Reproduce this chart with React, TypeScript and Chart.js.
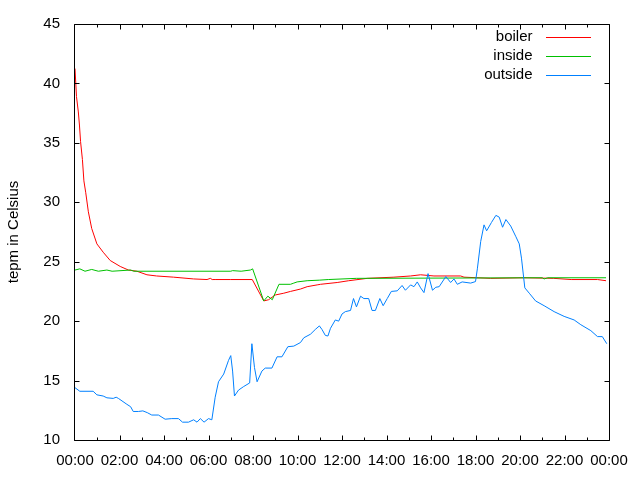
import { useEffect, useRef } from "react";
import { Chart, registerables } from "chart.js";

Chart.register(...registerables);

const seriesLabels = ["boiler", "inside", "outside"];
const seriesColors = ["#ff0000", "#00c000", "#0080ff"];

const boilerTimes = ["00:00","00:04","00:09","00:12","00:15","00:20","00:24","00:29","00:36","00:45","00:59","01:16","01:35","02:02","02:24","02:47","03:14","03:40","04:26","05:20","05:56","06:05","06:10","06:20","07:00","07:58","08:29","08:42","09:00","09:23","09:41","10:08","10:26","10:53","11:02","11:47","12:18","13:08","14:20","15:05","15:32","16:08","17:20","17:29","18:41","20:10","21:31","22:18","23:29","23:52"];
const boilerTemps = [41.25,38.9,37.6,36.5,35.1,33.6,31.8,30.8,29.2,27.8,26.5,25.8,25.1,24.6,24.3,24.2,23.9,23.8,23.7,23.55,23.5,23.6,23.5,23.5,23.5,23.5,21.7,21.8,22.2,22.35,22.5,22.7,22.9,23.05,23.1,23.25,23.4,23.6,23.7,23.8,23.9,23.8,23.8,23.7,23.6,23.65,23.6,23.5,23.5,23.4];

const insideTimes = ["00:00","00:13","00:27","00:45","01:03","01:26","01:40","02:30","02:39","07:00","07:05","07:28","07:53","07:59","08:29","08:40","08:52","09:10","09:41","09:50","09:59","10:26","11:00","11:23","12:39","21:00","21:05","21:15","23:52"];
const insideTemps = [24.3,24.4,24.2,24.35,24.2,24.3,24.2,24.3,24.2,24.2,24.25,24.2,24.3,24.4,21.7,22.1,21.8,23.1,23.1,23.2,23.3,23.4,23.45,23.5,23.6,23.65,23.55,23.65,23.65];

const outsideTimes = ["00:00","00:13","00:49","00:59","01:16","01:26","01:43","01:51","01:57","02:20","02:30","02:37","02:51","03:03","03:15","03:27","03:45","04:03","04:21","04:39","04:50","05:06","05:20","05:29","05:38","05:48","06:00","06:09","06:18","06:27","06:41","06:54","07:00","07:05","07:10","07:21","07:35","07:51","07:57","08:04","08:11","08:24","08:33","08:51","09:05","09:18","09:34","09:50","10:08","10:17","10:35","10:48","10:59","11:06","11:15","11:22","11:29","11:42","11:51","12:00","12:09","12:23","12:31","12:39","12:50","12:59","13:12","13:21","13:30","13:42","13:51","14:02","14:13","14:29","14:42","14:51","15:05","15:14","15:23","15:32","15:41","15:52","16:04","16:13","16:22","16:40","16:53","17:02","17:11","17:24","17:47","18:00","18:05","18:14","18:23","18:30","18:43","18:55","19:04","19:13","19:22","19:35","19:49","19:58","20:04","20:13","20:25","20:42","21:05","21:32","21:59","22:26","22:44","23:11","23:29","23:42","23:54"];
const outsideTemps = [14.4,14.1,14.1,13.8,13.7,13.55,13.5,13.6,13.5,13.0,12.8,12.4,12.4,12.45,12.3,12.1,12.1,11.75,11.8,11.8,11.5,11.5,11.7,11.5,11.8,11.5,11.8,11.7,13.6,14.9,15.55,16.7,17.1,15.8,13.7,14.2,14.5,14.8,18.1,16.1,14.9,15.8,16.05,16.05,17.0,17.0,17.85,17.9,18.2,18.6,18.9,19.3,19.6,19.3,18.8,18.75,19.4,20.1,20.0,20.6,20.8,20.9,21.9,21.2,22.1,21.9,21.9,20.9,20.9,21.9,21.3,21.9,22.5,22.55,23.0,22.6,23.05,22.9,23.3,22.8,22.4,24.0,22.6,22.85,22.9,23.75,23.25,23.55,23.1,23.3,23.2,23.33,24.4,26.7,28.1,27.6,28.3,28.9,28.75,27.9,28.55,28.0,27.1,26.5,25.3,22.8,22.35,21.7,21.3,20.8,20.4,20.1,19.7,19.2,18.7,18.7,18.1];

const xTickHours = [0,2,4,6,8,10,12,14,16,18,20,22,24];
const xTickLabels = ["00:00","02:00","04:00","06:00","08:00","10:00","12:00","14:00","16:00","18:00","20:00","22:00","00:00"];
const yTicks = [10,15,20,25,30,35,40,45];
const yTitle = "tepm in Celsius";

const FONT = "'Liberation Sans', Arial, sans-serif";

function toHours(t: string): number {
  const [h, m] = t.split(":").map(Number);
  return h + m / 60;
}

function pts(times: string[], vals: number[]) {
  return times.map((t, i) => ({ x: toHours(t), y: vals[i] }));
}

const framePlugin = {
  id: "gnuframe",
  afterDraw(chart: any) {
    const { ctx, chartArea: a, scales } = chart;
    ctx.save();
    ctx.strokeStyle = "#000";
    ctx.lineWidth = 1;
    const L = Math.round(a.left) - 0.5;
    const R = Math.round(a.right) + 0.5;
    const T = Math.round(a.top) + 0.5;
    const B = Math.round(a.bottom) + 0.5;
    ctx.beginPath();
    ctx.rect(L, T, R - L, B - T);
    for (let h = 0; h <= 24; h++) {
      const px = Math.round(scales.x.getPixelForValue(h)) + (h === 0 ? -0.5 : 0.5);
      const len = xTickHours.includes(h) ? 5 : 3;
      ctx.moveTo(px, B);
      ctx.lineTo(px, B - len);
      ctx.moveTo(px, T);
      ctx.lineTo(px, T + len);
    }
    for (const v of yTicks) {
      const py = Math.round(scales.y.getPixelForValue(v)) + 0.5;
      ctx.moveTo(L, py);
      ctx.lineTo(L + 5, py);
      ctx.moveTo(R, py);
      ctx.lineTo(R - 5, py);
    }
    ctx.stroke();

    ctx.font = `15px ${FONT}`;
    ctx.textAlign = "right";
    ctx.textBaseline = "middle";
    for (let i = 0; i < seriesLabels.length; i++) {
      const y = Math.round(a.top) + 13 + i * 19;
      ctx.fillStyle = "#000000";
      ctx.fillText(seriesLabels[i], R - 77, y);
      ctx.fillStyle = seriesColors[i];
      ctx.fillRect(Math.round(R - 64), y, 45, 1);
    }
    ctx.restore();
  },
};

export default function App() {
  const ref = useRef<HTMLCanvasElement | null>(null);

  useEffect(() => {
    document.body.style.margin = "0";
    const canvas = ref.current;
    if (!canvas) return;
    const seriesData = [
      pts(boilerTimes, boilerTemps),
      pts(insideTimes, insideTemps),
      pts(outsideTimes, outsideTemps),
    ];
    const chart = new Chart(canvas, {
      type: "line",
      data: {
        datasets: seriesLabels.map((label, i) => ({
          label,
          data: seriesData[i],
          borderColor: seriesColors[i],
          backgroundColor: seriesColors[i],
          borderWidth: 1,
          pointRadius: 0,
          tension: 0,
          fill: false,
          order: 3 - i,
        })),
      },
      options: {
        animation: false,
        responsive: false,
        layout: { padding: { top: 20, right: 31, left: 0, bottom: 0 } },
        plugins: {
          legend: { display: false },
          tooltip: { enabled: false },
        },
        scales: {
          x: {
            type: "linear",
            min: 0,
            max: 24,
            grid: { display: false, drawTicks: false },
            border: { display: false },
            afterFit: (s: any) => {
              s.height = 40;
            },
            afterBuildTicks: (s: any) => {
              s.ticks = xTickHours.map((v) => ({ value: v }));
            },
            ticks: {
              autoSkip: false,
              maxRotation: 0,
              padding: 12,
              color: "#000",
              font: { family: FONT, size: 15 },
              callback: (v: any) => {
                const idx = xTickHours.indexOf(Number(v));
                return idx >= 0 ? xTickLabels[idx] : "";
              },
            },
          },
          y: {
            type: "linear",
            min: 10,
            max: 45,
            grid: { display: false, drawTicks: false },
            border: { display: false },
            afterFit: (s: any) => {
              s.width = 75;
            },
            afterBuildTicks: (s: any) => {
              s.ticks = yTicks.map((v) => ({ value: v }));
            },
            ticks: {
              padding: 15,
              color: "#000",
              font: { family: FONT, size: 15 },
            },
            title: {
              display: true,
              text: yTitle,
              color: "#000",
              font: { family: FONT, size: 15 },
              padding: { top: 5, bottom: 0 },
            },
          },
        },
      },
      plugins: [framePlugin],
    });
    return () => chart.destroy();
  }, []);

  return (
    <div style={{ position: "fixed", left: 0, top: 0, width: 640, height: 480, background: "#fff" }}>
      <canvas ref={ref} width={640} height={480} style={{ display: "block" }} />
    </div>
  );
}
